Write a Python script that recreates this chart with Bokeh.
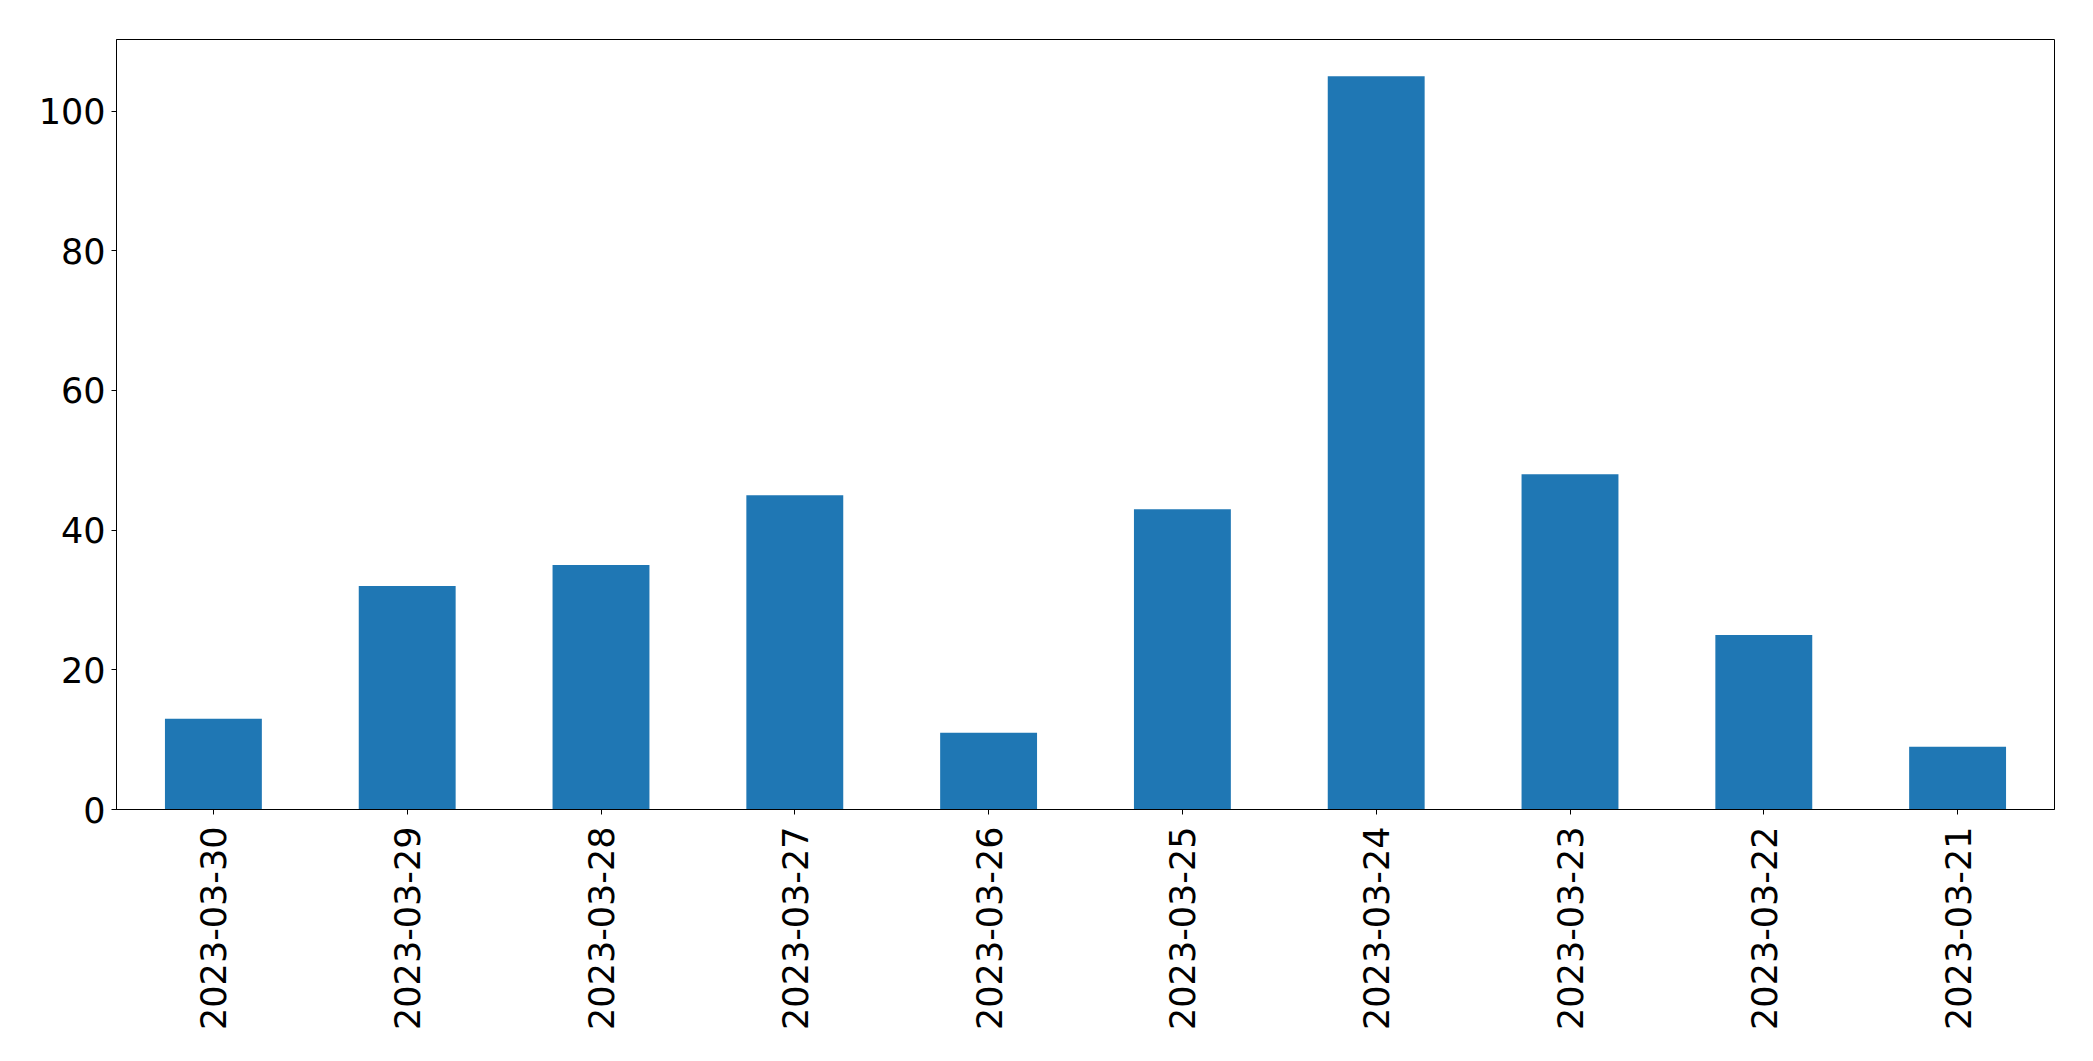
from bokeh.plotting import figure
from bokeh.models import Range1d, FactorRange, ColumnDataSource
from bokeh.embed import file_html
from bokeh.resources import INLINE
import math

dates = ["2023-03-30", "2023-03-29", "2023-03-28", "2023-03-27", "2023-03-26",
         "2023-03-25", "2023-03-24", "2023-03-23", "2023-03-22", "2023-03-21"]
counts = [13, 32, 35, 45, 11, 43, 105, 48, 25, 9]
y_ticks = [0, 20, 40, 60, 80, 100]

src = ColumnDataSource(dict(x=dates, top=counts))

p = figure(width=2077, height=1045, x_range=FactorRange(*dates),
           y_range=Range1d(0, max(counts) * 1.05),
           output_backend="svg", toolbar_location=None,
           min_border_left=116, min_border_right=23, min_border_top=39, min_border_bottom=236)

p.vbar(x="x", top="top", width=0.5, source=src, color="#1f77b4", line_color=None)

p.xgrid.visible = False
p.ygrid.visible = False
p.outline_line_color = "black"
p.outline_line_width = 1
p.background_fill_color = "white"
p.border_fill_color = "white"

for ax in (p.xaxis, p.yaxis):
    ax.axis_line_color = "black"
    ax.major_tick_line_color = "black"
    ax.major_tick_out = 5
    ax.major_tick_in = 0
    ax.minor_tick_line_color = None
    ax.major_label_text_font = "DejaVu Sans"
    ax.major_label_text_font_size = "35px"
    ax.major_label_text_color = "black"

p.yaxis.ticker = y_ticks
p.yaxis.major_label_standoff = 6
p.xaxis.major_label_orientation = math.pi / 2
p.xaxis.major_label_standoff = 12

open("out.html", "w").write(file_html(p, INLINE))
